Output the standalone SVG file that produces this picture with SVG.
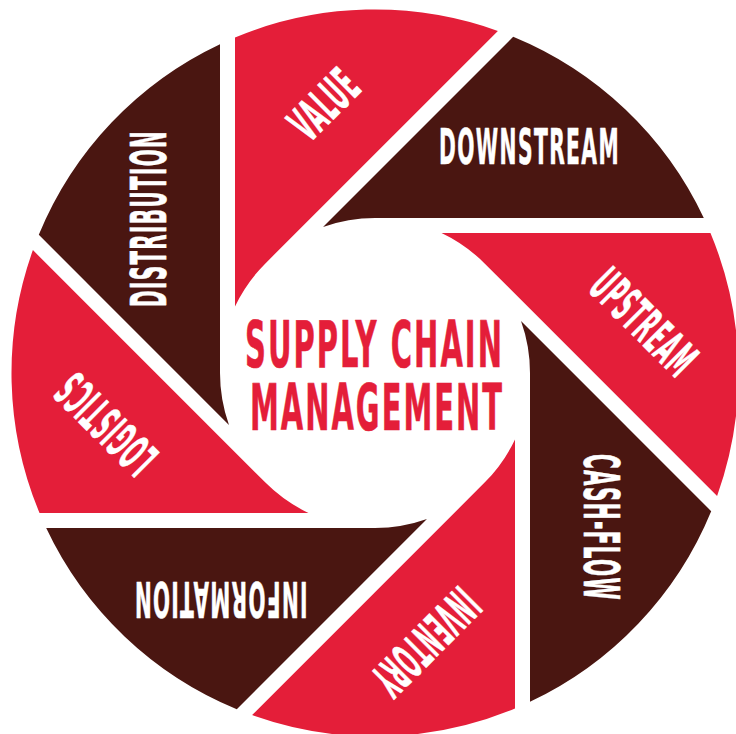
<svg xmlns="http://www.w3.org/2000/svg" width="736" height="734" viewBox="0 0 736 734">
  <style>
    .red { fill: #E41E39; }
    .dark { fill: #4A1611; }
    .lbl { font-family: "DejaVu Sans Condensed", "DejaVu Sans", sans-serif; font-weight: bold; font-size: 49px; letter-spacing: 3px; fill: #ffffff; stroke: #ffffff; stroke-width: 0.6px; stroke-linejoin: round; }
    .title { font-family: "DejaVu Sans Condensed", "DejaVu Sans", sans-serif; font-weight: bold; font-size: 64px; letter-spacing: 4px; fill: #E41E39; stroke: #E41E39; stroke-width: 0.6px; stroke-linejoin: round; }
  </style>
  <rect x="0" y="0" width="736" height="734" fill="#ffffff"/>

  <g id="value">
    <path class="red" d="M235,37.54 L235,306.48 A155,155 0 0 1 265.4,263.4 L497.89,30.9 A363.5,363.5 0 0 0 235,37.54 Z"/>
    <text class="lbl" transform="translate(324.7,104.2) rotate(-45)" x="0" y="17" text-anchor="middle" textLength="77" lengthAdjust="spacingAndGlyphs">VALUE</text>
  </g>
  <g id="downstream">
    <path class="dark" d="M513.21,36.8 L323.04,226.97 A155,155 0 0 1 375,218 L703.8,218 A363.5,363.5 0 0 0 513.21,36.8 Z"/>
    <text class="lbl" transform="translate(529.5,147.3)" x="0" y="17" text-anchor="middle" textLength="181" lengthAdjust="spacingAndGlyphs">DOWNSTREAM</text>
  </g>
  <g id="upstream">
    <path class="red" d="M710.46,233 L441.52,233 A155,155 0 0 1 484.6,263.4 L717.1,495.89 A363.5,363.5 0 0 0 710.46,233 Z"/>
    <text class="lbl" transform="translate(643.8,322.7) rotate(45)" x="0" y="17" text-anchor="middle" textLength="128" lengthAdjust="spacingAndGlyphs">UPSTREAM</text>
  </g>
  <g id="cash-flow">
    <path class="dark" d="M711.2,511.21 L521.03,321.04 A155,155 0 0 1 530,373 L530,701.8 A363.5,363.5 0 0 0 711.2,511.21 Z"/>
    <text class="lbl" transform="translate(600.7,527.5) rotate(90)" x="0" y="17" text-anchor="middle" textLength="147" lengthAdjust="spacingAndGlyphs">CASH-FLOW</text>
  </g>
  <g id="inventory">
    <path class="red" d="M515,708.46 L515,439.52 A155,155 0 0 1 484.6,482.6 L252.11,715.1 A363.5,363.5 0 0 0 515,708.46 Z"/>
    <text class="lbl" transform="translate(425.3,641.8) rotate(135)" x="0" y="17" text-anchor="middle" textLength="129" lengthAdjust="spacingAndGlyphs">INVENTORY</text>
  </g>
  <g id="information">
    <path class="dark" d="M236.79,709.2 L426.96,519.03 A155,155 0 0 1 375,528 L46.2,528 A363.5,363.5 0 0 0 236.79,709.2 Z"/>
    <text class="lbl" transform="translate(220.5,598.7) rotate(180)" x="0" y="17" text-anchor="middle" textLength="174" lengthAdjust="spacingAndGlyphs">INFORMATION</text>
  </g>
  <g id="logistics">
    <path class="red" d="M39.54,513 L308.48,513 A155,155 0 0 1 265.4,482.6 L32.9,250.11 A363.5,363.5 0 0 0 39.54,513 Z"/>
    <text class="lbl" transform="translate(106.2,423.3) rotate(225)" x="0" y="17" text-anchor="middle" textLength="120" lengthAdjust="spacingAndGlyphs">LOGISTICS</text>
  </g>
  <g id="distribution">
    <path class="dark" d="M38.8,234.79 L228.97,424.96 A155,155 0 0 1 220,373 L220,44.2 A363.5,363.5 0 0 0 38.8,234.79 Z"/>
    <text class="lbl" transform="translate(149.3,218.5) rotate(-90)" x="0" y="17" text-anchor="middle" textLength="177" lengthAdjust="spacingAndGlyphs">DISTRIBUTION</text>
  </g>

  <g id="center">
    <text class="title" x="245" y="367" textLength="259" lengthAdjust="spacingAndGlyphs">SUPPLY CHAIN</text>
    <text class="title" x="250" y="430" textLength="254" lengthAdjust="spacingAndGlyphs">MANAGEMENT</text>
  </g>

  <g id="connectors"/>
</svg>
